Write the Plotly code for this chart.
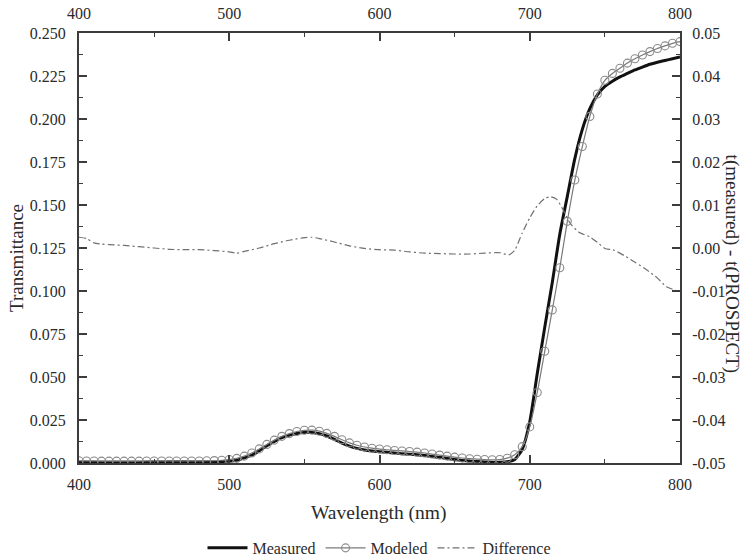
import plotly.graph_objects as go

# Sampling grid for the leaf transmittance spectra (nm)
wavelength = list(range(400, 805, 5))

measured = [
    0.0005, 0.0005, 0.0004, 0.0004, 0.0004, 0.0004, 0.0005, 0.0005, 0.0005, 0.0005,
    0.0006, 0.0006, 0.0007, 0.0007, 0.0007, 0.0006, 0.0006, 0.0006, 0.0007, 0.0008,
    0.0010, 0.0016, 0.0030, 0.0045, 0.0072, 0.0100, 0.0125, 0.0147, 0.0162, 0.0172,
    0.0177, 0.0178, 0.0171, 0.0157, 0.0137, 0.0116, 0.0098, 0.0085, 0.0076, 0.0070,
    0.0066, 0.0062, 0.0058, 0.0054, 0.0051, 0.0048, 0.0043, 0.0038, 0.0033, 0.0026,
    0.0020, 0.0015, 0.0011, 0.0008, 0.0006, 0.0005, 0.0005, 0.0007, 0.0020, 0.0080,
    0.0240, 0.0520, 0.0790, 0.1050, 0.1330, 0.1550, 0.1770, 0.1940, 0.2060, 0.2140,
    0.2190, 0.2220, 0.2245, 0.2265, 0.2285, 0.2302, 0.2318, 0.2330, 0.2340, 0.2350,
    0.2360,
]

modeled = [
    0.0013, 0.0012, 0.0012, 0.0011, 0.0011, 0.0011, 0.0011, 0.0011, 0.0011, 0.0012,
    0.0012, 0.0012, 0.0012, 0.0012, 0.0012, 0.0012, 0.0012, 0.0013, 0.0014, 0.0016,
    0.0020, 0.0027, 0.0040, 0.0058, 0.0082, 0.0108, 0.0133, 0.0155, 0.0171, 0.0183,
    0.0190, 0.0191, 0.0185, 0.0172, 0.0155, 0.0135, 0.0117, 0.0103, 0.0093, 0.0086,
    0.0081, 0.0077, 0.0073, 0.0070, 0.0067, 0.0063, 0.0058, 0.0052, 0.0046, 0.0040,
    0.0034, 0.0029, 0.0025, 0.0022, 0.0020, 0.0019, 0.0020, 0.0028, 0.0048, 0.0095,
    0.0210, 0.0410, 0.0650, 0.0890, 0.1135, 0.1405, 0.1645, 0.1840, 0.2015, 0.2145,
    0.2225, 0.2265, 0.2295, 0.2325, 0.2350, 0.2372, 0.2392, 0.2410, 0.2425, 0.2440,
    0.2450,
]

# t(measured) - t(PROSPECT), plotted on the right-hand axis
diff_wavelength = [
    400, 405, 410, 415, 420, 430, 440, 450, 460, 470, 480, 490, 500, 505, 510, 520,
    530, 540, 550, 555, 560, 570, 580, 590, 600, 610, 620, 630, 640, 650, 660, 670,
    680, 686, 690, 695, 700, 705, 710, 714, 718, 722, 727, 733, 740, 745, 750, 756,
    764, 770, 778, 785, 791, 800,
]
difference = [
    0.0025, 0.0022, 0.0012, 0.0009, 0.0008, 0.0006, 0.0003, 0.0000, -0.0003, -0.0004,
    -0.0004, -0.0006, -0.0009, -0.0012, -0.0008, 0.0000, 0.0010, 0.0018, 0.0024, 0.0025,
    0.0022, 0.0014, 0.0005, -0.0001, -0.0004, -0.0005, -0.0009, -0.0012, -0.0013, -0.0014,
    -0.0014, -0.0012, -0.0011, -0.0016, -0.0005, 0.0035, 0.0070, 0.0098, 0.0115, 0.0119,
    0.0113, 0.0090, 0.0057, 0.0036, 0.0026, 0.0013, -0.0001, -0.0005, -0.0020, -0.0033,
    -0.0051, -0.0070, -0.0090, -0.0102,
]

x_ticks = [400, 500, 600, 700, 800]
left_ticks = [0.000, 0.025, 0.050, 0.075, 0.100, 0.125, 0.150, 0.175, 0.200, 0.225, 0.250]
right_ticks = [-0.05, -0.04, -0.03, -0.02, -0.01, 0.00, 0.01, 0.02, 0.03, 0.04, 0.05]

FONT = "Liberation Serif"
TEXT = "#2a2a2a"
AXIS = "#3c3c3c"

fig = go.Figure()

fig.add_trace(go.Scatter(
    x=wavelength, y=measured, name="Measured", mode="lines",
    line=dict(color="#111111", width=3, shape="spline", smoothing=0.6),
    xaxis="x", yaxis="y",
))
fig.add_trace(go.Scatter(
    x=wavelength, y=modeled, name="Modeled", mode="lines+markers",
    line=dict(color="#7a7a7a", width=1.2, shape="spline", smoothing=0.6),
    marker=dict(symbol="circle-open", size=8, color="#8a8a8a", line=dict(width=1.1)),
    xaxis="x", yaxis="y",
))
fig.add_trace(go.Scatter(
    x=diff_wavelength, y=difference, name="Difference", mode="lines",
    line=dict(color="#707070", width=1.2, dash="7px,3px,2px,3px", shape="spline", smoothing=0.6),
    xaxis="x2", yaxis="y2",
))

axis_common = dict(
    showline=True, linecolor=AXIS, linewidth=2,
    ticks="inside", ticklen=8, tickwidth=1.5, tickcolor=AXIS,
    showgrid=False, zeroline=False, automargin=False,
    tickfont=dict(family=FONT, size=16, color=TEXT),
)

fig.update_layout(
    width=746, height=558,
    margin=dict(l=79, r=66, t=33, b=95, autoexpand=False),
    plot_bgcolor="white", paper_bgcolor="white",
    font=dict(family=FONT, color=TEXT),
    showlegend=True,
    legend=dict(
        orientation="h", xref="paper", x=0.5, xanchor="center",
        yref="container", y=0.018, yanchor="middle",
        font=dict(family=FONT, size=16, color=TEXT),
        bgcolor="rgba(0,0,0,0)", itemwidth=40, tracegroupgap=0,
    ),
    xaxis=dict(
        range=[400, 800], tickvals=x_ticks, ticktext=[str(v) for v in x_ticks],
        minor=dict(dtick=50, tick0=400, ticks="inside", ticklen=4, tickwidth=1.2, tickcolor=AXIS),
        ticklabelstandoff=6, **axis_common,
    ),
    xaxis2=dict(
        range=[400, 800], overlaying="x", side="top", anchor="y2",
        tickvals=x_ticks, ticktext=[str(v) for v in x_ticks],
        minor=dict(dtick=50, tick0=400, ticks="inside", ticklen=4, tickwidth=1.2, tickcolor=AXIS),
        ticklabelstandoff=6, **axis_common,
    ),
    yaxis=dict(
        range=[0, 0.25], tickvals=left_ticks, ticktext=[f"{v:.3f}" for v in left_ticks],
        minor=dict(dtick=0.0125, tick0=0, ticks="inside", ticklen=4, tickwidth=1.2, tickcolor=AXIS),
        ticklabelstandoff=8, **axis_common,
    ),
    yaxis2=dict(
        range=[-0.05, 0.05], overlaying="y", side="right", anchor="x2",
        tickvals=right_ticks, ticktext=[f"{v:.2f}" for v in right_ticks],
        minor=dict(dtick=0.005, tick0=-0.05, ticks="inside", ticklen=4, tickwidth=1.2, tickcolor=AXIS),
        ticklabelstandoff=7, **axis_common,
    ),
)

fig.add_annotation(
    text="Transmittance", xref="paper", yref="paper", x=-0.103, y=0.477,
    xanchor="center", yanchor="middle",
    textangle=-90, showarrow=False, font=dict(family=FONT, size=19, color=TEXT),
)
fig.add_annotation(
    text="t(measured) - t(PROSPECT)", xref="paper", yref="paper", x=1.087, y=0.463,
    xanchor="center", yanchor="middle",
    textangle=90, showarrow=False, font=dict(family=FONT, size=19, color=TEXT),
)
fig.add_annotation(
    text="Wavelength (nm)", xref="paper", yref="paper", x=0.499, y=-0.116,
    xanchor="center", yanchor="middle",
    showarrow=False, font=dict(family=FONT, size=19.5, color=TEXT),
)

fig.write_html("out.html")
